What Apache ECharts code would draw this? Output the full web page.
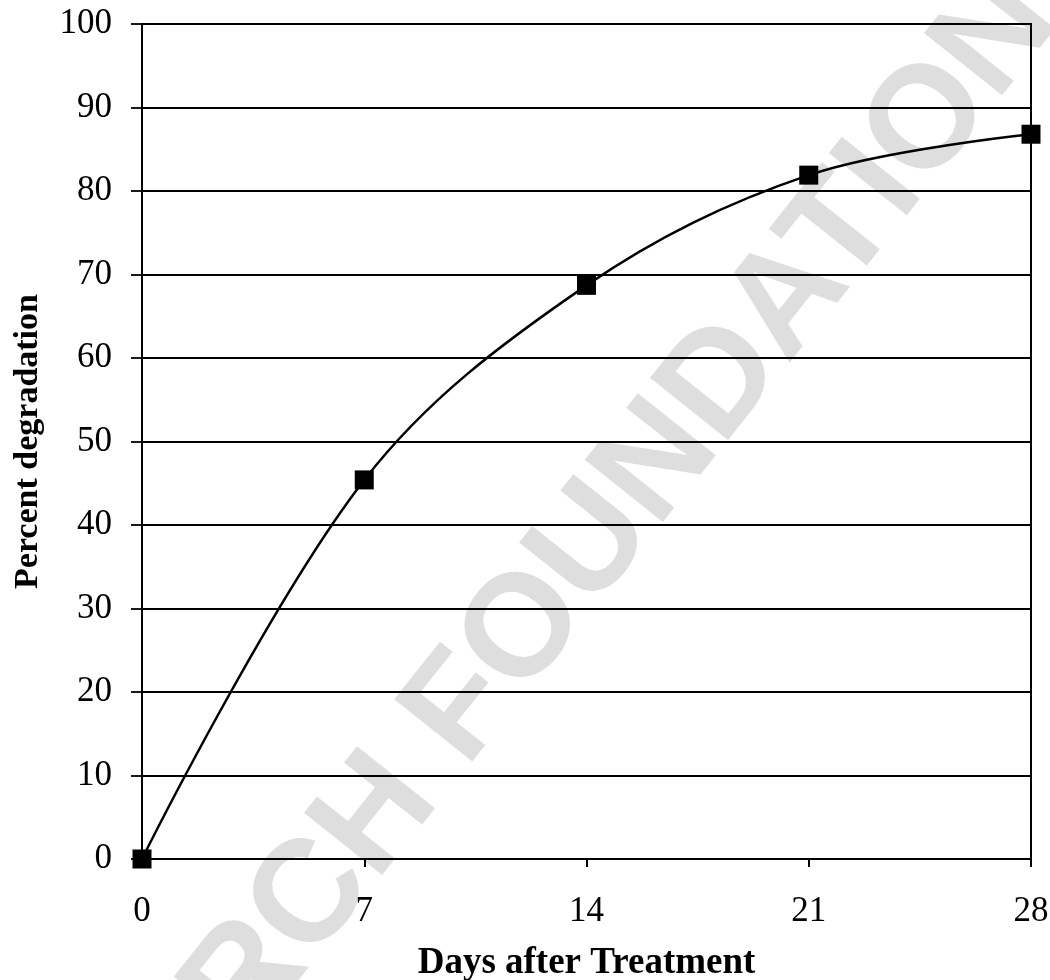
<!DOCTYPE html>
<html>
<head>
<meta charset="utf-8">
<title>Percent degradation</title>
<script src="https://cdn.jsdelivr.net/npm/echarts@6/dist/echarts.min.js"></script>
<style>
  html, body { margin: 0; padding: 0; background: #fff; }
  #chart { width: 1050px; height: 980px; }
</style>
</head>
<body>
<div id="chart"></div>
<script>
// Sampling days and measured degradation (%)
const days = [0, 7, 14, 21, 28];
const degradation = [0, 45.4, 68.7, 81.9, 86.8];

// Axis ranges
const dayTicks = { min: 0, max: 28, interval: 7 };
const pctTicks = { min: 0, max: 100, interval: 10 };

const serif = '"Liberation Serif", "DejaVu Serif", serif';

const chart = echarts.init(document.getElementById('chart'), null, { renderer: 'canvas' });

chart.setOption({
  backgroundColor: '#ffffff',
  animation: false,
  grid: {
    left: 142, right: 19, top: 24, bottom: 121,
    outerBoundsMode: 'none',
    containLabel: false,
    show: true,
    borderColor: '#000',
    borderWidth: 2,
    backgroundColor: 'transparent'
  },
  graphic: [{
    // diagonal watermark behind the plot
    type: 'text',
    z: -10,
    x: 1030,
    y: -4,
    rotation: 51.5 * Math.PI / 180,
    silent: true,
    style: {
      text: 'RESEARCH FOUNDATION',
      font: 'bold 145px "Liberation Sans", Arial, sans-serif',
      fill: '#dedede',
      align: 'right',
      verticalAlign: 'middle'
    }
  }],
  xAxis: {
    type: 'value',
    min: dayTicks.min,
    max: dayTicks.max,
    interval: dayTicks.interval,
    name: 'Days after Treatment',
    nameLocation: 'middle',
    nameGap: 86,
    nameTextStyle: { fontFamily: serif, fontWeight: 'bold', fontSize: 37, color: '#000' },
    axisLine: { show: true, onZero: false, lineStyle: { color: '#000', width: 2 } },
    axisTick: { show: true, inside: false, length: 8, lineStyle: { color: '#000', width: 2 } },
    axisLabel: { fontFamily: serif, fontSize: 35, color: '#000', margin: 35 },
    splitLine: { show: false }
  },
  yAxis: {
    type: 'value',
    min: pctTicks.min,
    max: pctTicks.max,
    interval: pctTicks.interval,
    name: 'Percent degradation',
    nameLocation: 'middle',
    nameGap: 97,
    nameTextStyle: { fontFamily: serif, fontWeight: 'bold', fontSize: 34, color: '#000' },
    axisLine: { show: true, onZero: false, lineStyle: { color: '#000', width: 2 } },
    axisTick: { show: true, inside: false, length: 11, lineStyle: { color: '#000', width: 1.8 } },
    axisLabel: { fontFamily: serif, fontSize: 35, color: '#000', margin: 30 },
    splitLine: { show: true, lineStyle: { color: '#000', width: 1.8 } }
  },
  series: [{
    type: 'line',
    data: days.map((d, i) => [d, degradation[i]]),
    smooth: 0.35,
    clip: false,
    symbol: 'rect',
    symbolSize: 19,
    showAllSymbol: true,
    lineStyle: { color: '#000', width: 2.5 },
    itemStyle: { color: '#000', borderWidth: 0 },
    z: 5
  }]
});
</script>
</body>
</html>
